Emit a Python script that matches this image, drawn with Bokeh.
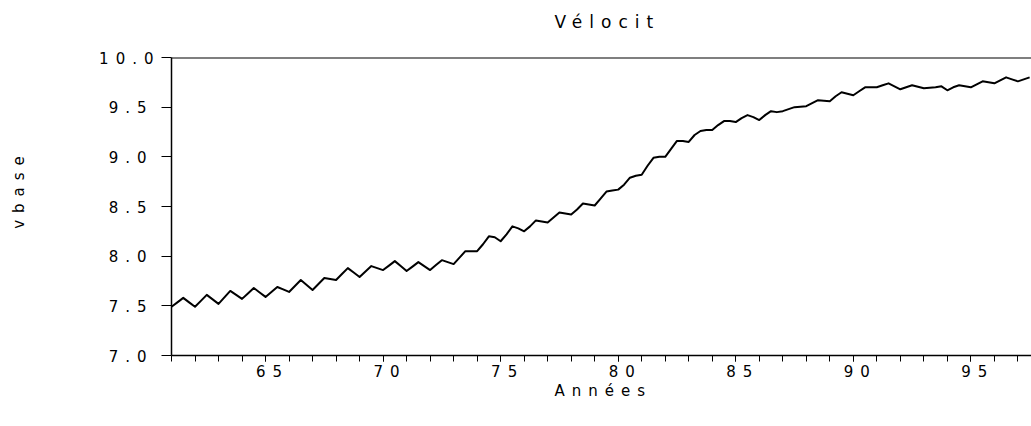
from bokeh.plotting import figure
from bokeh.models import Range1d, SingleIntervalTicker, PrintfTickFormatter, Span, InlineStyleSheet, Title
from bokeh.embed import file_html
from bokeh.resources import INLINE

# Quarterly series starting 1961Q1 (x in years, "61" = 1961)
start_year = 61
q1 = [7.49, 7.49, 7.52, 7.57, 7.59, 7.64, 7.66, 7.76, 7.79, 7.86, 7.85, 7.86, 7.92,
      8.05, 8.15, 8.25, 8.34, 8.42, 8.51, 8.67, 8.82, 9.00, 9.15, 9.27, 9.35, 9.37,
      9.46, 9.51, 9.56, 9.62, 9.70, 9.68, 9.69, 9.67, 9.70, 9.74, 9.76]
q2 = [7.535, 7.55, 7.585, 7.625, 7.64, 7.70, 7.72, 7.82, 7.845, 7.905, 7.895, 7.91, 7.985,
      8.12, 8.22, 8.30, 8.39, 8.47, 8.58, 8.72, 8.91, 9.08, 9.22, 9.32, 9.39, 9.42,
      9.48, 9.54, 9.61, 9.66, 9.72, 9.70, 9.695, 9.70, 9.73, 9.77, 9.78]
q3 = [7.58, 7.61, 7.65, 7.68, 7.69, 7.76, 7.78, 7.88, 7.90, 7.95, 7.94, 7.96, 8.05,
      8.20, 8.30, 8.36, 8.44, 8.53, 8.65, 8.79, 8.99, 9.16, 9.26, 9.36, 9.42, 9.46,
      9.50, 9.57, 9.65, 9.70, 9.74, 9.72, 9.70, 9.72, 9.76, 9.80, 9.80]
q4 = [7.535, 7.565, 7.61, 7.635, 7.665, 7.71, 7.77, 7.835, 7.88, 7.90, 7.90, 7.94, 8.05,
      8.19, 8.28, 8.35, 8.43, 8.52, 8.66, 8.81, 9.00, 9.16, 9.27, 9.36, 9.40, 9.45,
      9.505, 9.565, 9.635, 9.70, 9.71, 9.705, 9.71, 9.71, 9.75, 9.78]

title_text = "Vélocit"
x_label = "Années"
y_label = "vbase"

xs, ys = [], []
for i in range(len(q1)):
    for k, arr in enumerate((q1, q2, q3, q4)):
        if i < len(arr):
            xs.append(start_year + i + k * 0.25)
            ys.append(arr[i])

FONT = "DejaVu Sans"
SPACING = 7  # px letter spacing to mimic the wide typeface of the original

p = figure(width=1031, height=426, output_backend="svg", toolbar_location=None,
           x_range=Range1d(61.0, 97.58), y_range=Range1d(7.0, 10.0),
           min_border_left=171, min_border_right=0, min_border_top=57, min_border_bottom=71)
p.stylesheets = [InlineStyleSheet(css=":host { letter-spacing: %dpx; }" % SPACING)]

p.line(xs, ys, line_color="black", line_width=2, line_join="round")

p.title.text = title_text
p.title.align = "left"
p.title.offset = 383
p.title.text_font = FONT
p.title.text_font_size = "17px"
p.title.text_font_style = "normal"
p.title.text_color = "black"
p.title.standoff = 0

# spacer between the title and the frame
p.add_layout(Title(text=" ", text_font_size="10px", standoff=13), "above")

p.xgrid.visible = False
p.ygrid.visible = False
p.outline_line_color = None
p.background_fill_color = "white"
p.border_fill_color = "white"

p.add_layout(Span(location=10.0, dimension="width", line_color="black", line_width=2))

xa = p.xaxis[0]
xa.ticker = SingleIntervalTicker(interval=5, num_minor_ticks=5)
xa.axis_line_color = "black"
xa.axis_line_width = 1.5
xa.major_tick_out = 6
xa.major_tick_in = 0
xa.minor_tick_out = 6
xa.minor_tick_in = 0
xa.major_tick_line_color = "black"
xa.minor_tick_line_color = "black"
xa.major_label_text_font = FONT
xa.major_label_text_font_size = "15px"
xa.major_label_text_color = "black"
xa.major_label_standoff = 3

p.add_layout(Title(text=x_label, align="left", offset=383, standoff=0,
                   text_font=FONT, text_font_size="15px", text_font_style="normal",
                   text_color="black"), "below")

ya = p.yaxis[0]
ya.ticker = SingleIntervalTicker(interval=0.5, num_minor_ticks=0)
ya.formatter = PrintfTickFormatter(format="%.1f")
ya.axis_line_color = "black"
ya.axis_line_width = 1.5
ya.major_tick_out = 10
ya.major_tick_in = 0
ya.minor_tick_line_color = None
ya.major_label_text_font = FONT
ya.major_label_text_font_size = "15px"
ya.major_label_text_color = "black"
ya.major_label_standoff = 29
ya.axis_label = y_label
ya.axis_label_text_font = FONT
ya.axis_label_text_font_size = "15px"
ya.axis_label_text_font_style = "normal"
ya.axis_label_text_color = "black"
ya.axis_label_standoff = 68

open("out.html", "w").write(file_html(p, INLINE))
